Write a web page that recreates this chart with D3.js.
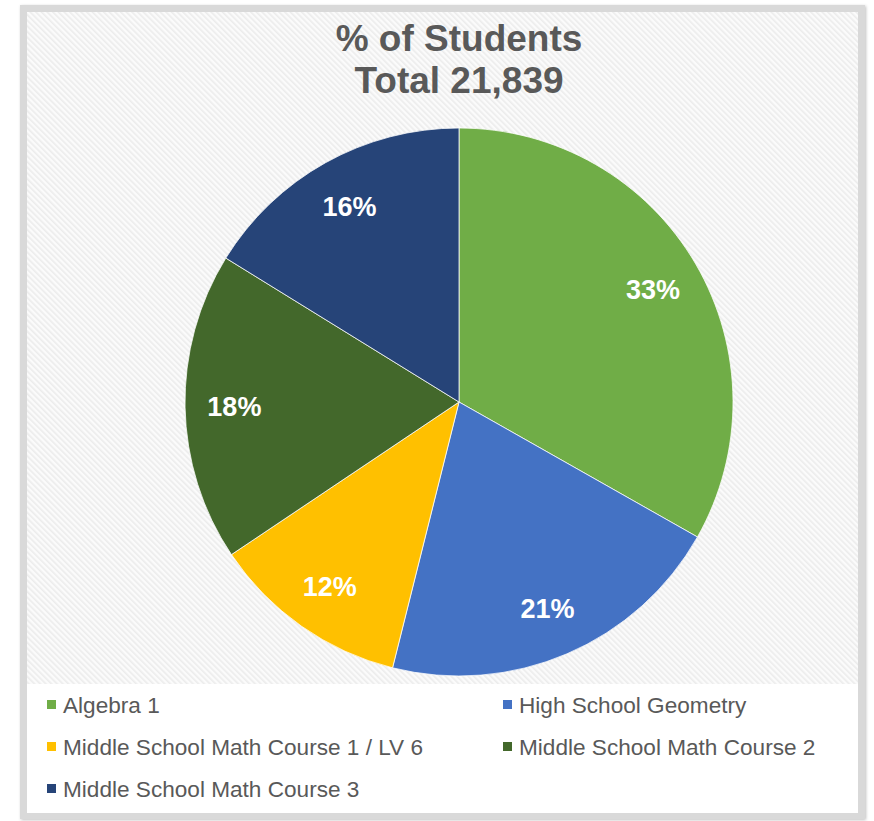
<!DOCTYPE html>
<html>
<head>
<meta charset="utf-8">
<script src="https://cdn.jsdelivr.net/npm/d3@7"></script>
<style>
  body { margin: 0; background: #fff; }
  svg { display: block; font-family: "Liberation Sans", Arial, sans-serif; }
</style>
</head>
<body>
<div id="main"></div>
<script>
// data (student counts, total 21,839)
const categories = ["Algebra 1", "High School Geometry", "Middle School Math Course 1 / LV 6",
                    "Middle School Math Course 2", "Middle School Math Course 3"];
const students = [7250, 4521, 2555, 3975, 3538];
const colors = ["#70ad47", "#4472c4", "#ffc000", "#43682b", "#264478"];
const titleLines = ["% of Students", "Total 21,839"];

const width = 874, height = 821;
const cx = 459, cy = 402, radius = 274;

const svg = d3.select("#main")
  .append("svg")
    .attr("width", width)
    .attr("height", height);

// hatched background pattern
const defs = svg.append("defs");
const pat = defs.append("pattern")
    .attr("id", "hatch")
    .attr("patternUnits", "userSpaceOnUse")
    .attr("width", 4).attr("height", 4)
    .attr("patternTransform", "rotate(-45)");
pat.append("rect").attr("width", 4).attr("height", 4).attr("fill", "#fbfbfb");
pat.append("rect").attr("width", 1.6).attr("height", 4).attr("fill", "#ececec");

const shadow = defs.append("filter").attr("id", "shadow")
    .attr("x", "-10%").attr("y", "-10%").attr("width", "120%").attr("height", "120%");
shadow.append("feDropShadow")
    .attr("dx", 1).attr("dy", 1).attr("stdDeviation", 1.5)
    .attr("flood-color", "#000").attr("flood-opacity", 0.25);

// frame
svg.append("rect")
    .attr("x", 20).attr("y", 5)
    .attr("width", 845).attr("height", 814)
    .attr("fill", "#d9d9d9")
    .attr("filter", "url(#shadow)");
svg.append("rect")
    .attr("x", 27).attr("y", 12)
    .attr("width", 831).attr("height", 801)
    .attr("fill", "url(#hatch)");
// legend panel
svg.append("rect")
    .attr("x", 27).attr("y", 684)
    .attr("width", 831).attr("height", 129)
    .attr("fill", "#fff");

// title
svg.append("text")
    .attr("text-anchor", "middle")
    .attr("fill", "#595959")
    .attr("font-weight", "bold")
    .attr("font-size", 37)
  .selectAll("tspan")
  .data(titleLines)
  .join("tspan")
    .attr("x", cx)
    .attr("y", (d, i) => 51 + i * 42)
    .text(d => d);

// pie
const total = d3.sum(students);
const pie = d3.pie().sort(null).value(d => d.value);
const arcs = pie(categories.map((c, i) => ({ name: c, value: students[i], color: colors[i] })));

const arc = d3.arc().innerRadius(0).outerRadius(radius);
const labelArc = d3.arc().innerRadius(radius * 0.82).outerRadius(radius * 0.82);

const g = svg.append("g").attr("transform", `translate(${cx},${cy})`);

g.selectAll("path")
  .data(arcs)
  .join("path")
    .attr("d", arc)
    .attr("fill", d => d.data.color)
    .attr("stroke", "#fff")
    .attr("stroke-width", 0.75);

g.selectAll("text")
  .data(arcs)
  .join("text")
    .attr("transform", d => `translate(${labelArc.centroid(d)})`)
    .attr("text-anchor", "middle")
    .attr("dy", "0.36em")
    .attr("fill", "#fff")
    .attr("font-weight", "bold")
    .attr("font-size", 27)
    .text(d => d3.format(".0%")(d.data.value / total));

// legend, two columns
const legend = svg.append("g");
const item = legend.selectAll("g")
  .data(arcs)
  .join("g")
    .attr("transform", (d, i) => `translate(${i % 2 ? 503 : 47},${705 + Math.floor(i / 2) * 42})`);

item.append("rect")
    .attr("x", 0).attr("y", -5)
    .attr("width", 9).attr("height", 9)
    .attr("fill", d => d.data.color);

item.append("text")
    .attr("x", 16)
    .attr("dy", "0.35em")
    .attr("fill", "#595959")
    .attr("font-size", 22.6)
    .text(d => d.data.name);
</script>
</body>
</html>
